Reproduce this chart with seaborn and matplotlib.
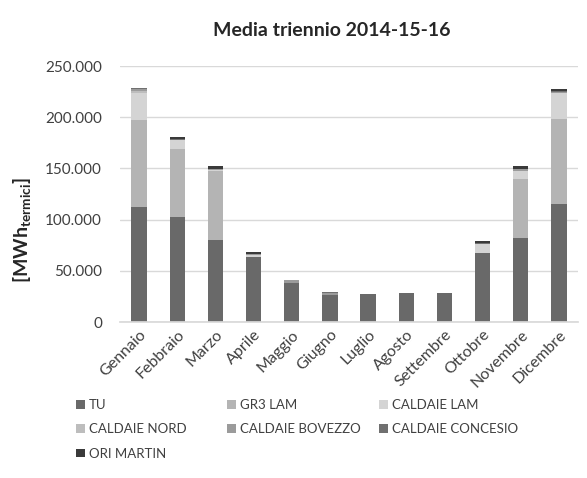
import numpy as np
import pandas as pd
import matplotlib
matplotlib.use("Agg")
import matplotlib.pyplot as plt
import seaborn as sns
from matplotlib.patches import Patch
from matplotlib.ticker import FuncFormatter, FixedLocator

months = ["Gennaio", "Febbraio", "Marzo", "Aprile", "Maggio", "Giugno", "Luglio",
          "Agosto", "Settembre", "Ottobre", "Novembre", "Dicembre"]
series_names = ["TU", "GR3 LAM", "CALDAIE LAM", "CALDAIE NORD", "CALDAIE BOVEZZO",
                "CALDAIE CONCESIO", "ORI MARTIN"]
tu = [112000, 103000, 80500, 63500, 38000, 26000, 27000, 28300, 28300, 67000, 82500, 115000]
gr3_lam = [85000, 66000, 66500, 0, 0, 0, 0, 0, 0, 0, 57000, 83000]
caldaie_lam = [27000, 8500, 1500, 1500, 0, 0, 0, 0, 0, 9000, 7500, 26000]
caldaie_nord = [1500, 0, 0, 0, 0, 0, 0, 0, 0, 0, 500, 0]
caldaie_bovezzo = [2500, 500, 500, 1000, 2700, 2700, 0, 0, 0, 500, 1500, 1000]
caldaie_concesio = [500, 500, 500, 500, 300, 600, 0, 0, 0, 500, 500, 500]
ori_martin = [0, 2000, 2500, 1500, 0, 0, 0, 0, 0, 2000, 3000, 2000]
yticks = [0, 50000, 100000, 150000, 200000, 250000]

colors = ["#696969", "#b4b4b4", "#d4d4d4", "#bdbdbd", "#9b9b9b", "#707070", "#3a3a3a"]
values = [tu, gr3_lam, caldaie_lam, caldaie_nord, caldaie_bovezzo, caldaie_concesio, ori_martin]

sns.set_theme(style="white")
plt.rcParams["font.family"] = ["Lato", "DejaVu Sans"]
plt.rcParams["mathtext.fontset"] = "custom"
plt.rcParams["mathtext.rm"] = "Lato"
plt.rcParams["mathtext.bf"] = "Lato:bold"
txt = "#404040"

fig = plt.figure(figsize=(5.87, 4.78), dpi=100)
ax = fig.add_axes([120/587, 1-322/478, 458/587, 256/478])

cum = np.cumsum(np.array(values, dtype=float), axis=0)
df = pd.DataFrame({"month": months})
for i in range(len(series_names) - 1, -1, -1):
    df["v"] = cum[i]
    sns.barplot(data=df, x="month", y="v", color=colors[i], width=0.4,
                saturation=1, ax=ax, zorder=2, linewidth=0, edgecolor="none")

ax.set_ylim(0, 250000)
ax.set_xlim(-0.5, 11.5)
ax.set_yticks(yticks)
ax.yaxis.set_major_formatter(FuncFormatter(lambda v, p: f"{int(v):,}".replace(",", ".")))
ax.grid(axis="y", color="#d9d9d9", linewidth=1, zorder=0)
ax.set_axisbelow(True)
for s in ["left", "right", "top"]:
    ax.spines[s].set_visible(False)
ax.spines["bottom"].set_color("#d9d9d9")
ax.spines["bottom"].set_zorder(3)
ax.tick_params(axis="y", length=0, pad=13, labelsize=11, labelcolor=txt)
ax.tick_params(axis="x", which="major", length=0, pad=4, labelsize=11.5, labelcolor=txt)
ax.set_xticks(range(12))
ax.set_xticklabels(months, rotation=45, ha="right", rotation_mode="anchor")
ax.xaxis.set_minor_locator(FixedLocator(np.arange(-0.5, 12, 1.0)))
ax.tick_params(axis="x", which="minor", length=5, color="#d9d9d9", width=1)
ax.set_xlabel("")
ax.set_ylabel("")

fig.text(22/587, 1-230/478, r"$\mathbf{[MWh_{termici}]}$", rotation=90,
         ha="center", va="center", fontsize=14, color="#262626")
fig.text(332/587, 1-30/478, "Media triennio 2014-15-16", ha="center", va="center",
         fontsize=14, fontweight="bold", color="#262626")

columns = [([0, 3, 6], 76), ([1, 4], 227), ([2, 5], 379)]
for idx, xpos in columns:
    handles = [Patch(facecolor=colors[i], edgecolor="none") for i in idx]
    labels = [series_names[i] for i in idx]
    fig.legend(handles, labels, loc="upper left", bbox_to_anchor=(xpos/587, 1-399/478),
               ncol=1, frameon=False, fontsize=9.5, handlelength=0.65, handleheight=0.65,
               handletextpad=0.35, labelspacing=0.93, labelcolor=txt,
               borderaxespad=0, borderpad=0)

fig.savefig("out.png", dpi=100)
